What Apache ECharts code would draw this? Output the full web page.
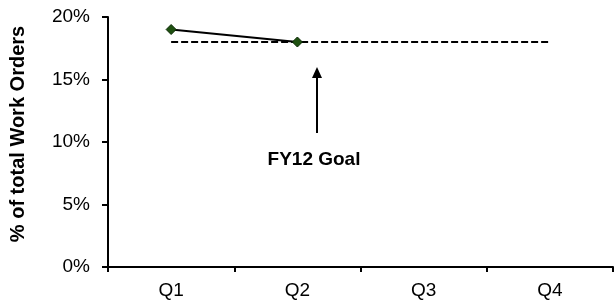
<!DOCTYPE html>
<html>
<head>
<meta charset="utf-8">
<script src="https://cdn.jsdelivr.net/npm/echarts@6/dist/echarts.min.js"></script>
<style>html,body{margin:0;padding:0;background:#fff;}#c{width:615px;height:303px;}</style>
</head>
<body>
<div id="c"></div>
<script>
var categories = ['Q1', 'Q2', 'Q3', 'Q4'];
var actualValues = [19, 18, null, null];
var goalValues = [18, 18, 18, 18];
var yTicks = [0, 5, 10, 15, 20];
var yAxisTitle = '% of total Work Orders';
var goalLabel = 'FY12 Goal';

var chart = echarts.init(document.getElementById('c'), null, {renderer: 'canvas'});
var font = '"Liberation Sans", Arial, sans-serif';
chart.setOption({
  animation: false,
  grid: {left: 107, right: 2, top: 17, bottom: 36, containLabel: false},
  xAxis: {
    type: 'category',
    data: categories,
    boundaryGap: true,
    axisLine: {lineStyle: {color: '#000', width: 2}},
    axisTick: {show: true, length: 5, lineStyle: {color: '#000', width: 2}},
    axisLabel: {color: '#000', fontSize: 19, fontFamily: font, margin: 14}
  },
  yAxis: {
    type: 'value',
    min: yTicks[0], max: yTicks[yTicks.length - 1], interval: 5,
    name: yAxisTitle,
    nameLocation: 'middle',
    nameGap: 80,
    nameRotate: 90,
    nameTextStyle: {color: '#000', fontSize: 20, fontWeight: 'bold', fontFamily: font, padding: [0, 0, 0, 16]},
    axisLine: {show: true, lineStyle: {color: '#000', width: 2}},
    axisTick: {show: true, length: 6, lineStyle: {color: '#000', width: 2}},
    splitLine: {show: false},
    axisLabel: {color: '#000', fontSize: 19, fontFamily: font, margin: 18, formatter: '{value}%'}
  },
  series: [
    {
      name: 'Goal',
      type: 'line',
      data: goalValues,
      symbol: 'none',
      lineStyle: {color: '#000', width: 2, type: [7, 3]},
      z: 2
    },
    {
      name: 'Actual',
      type: 'line',
      data: actualValues,
      symbol: 'diamond',
      symbolSize: 10,
      itemStyle: {color: '#1e5010', borderColor: '#0a2a05', borderWidth: 1},
      lineStyle: {color: '#000', width: 2},
      z: 3
    }
  ],
  graphic: [
    {type: 'line', shape: {x1: 317, y1: 133, x2: 317, y2: 74}, style: {stroke: '#000', lineWidth: 2}},
    {type: 'polygon', shape: {points: [[317, 67], [312, 78], [322, 78]]}, style: {fill: '#000'}},
    {type: 'text', x: 314, y: 160, style: {text: goalLabel, fill: '#000', font: 'bold 19px ' + font, align: 'center', verticalAlign: 'middle'}}
  ]
});
</script>
</body>
</html>
